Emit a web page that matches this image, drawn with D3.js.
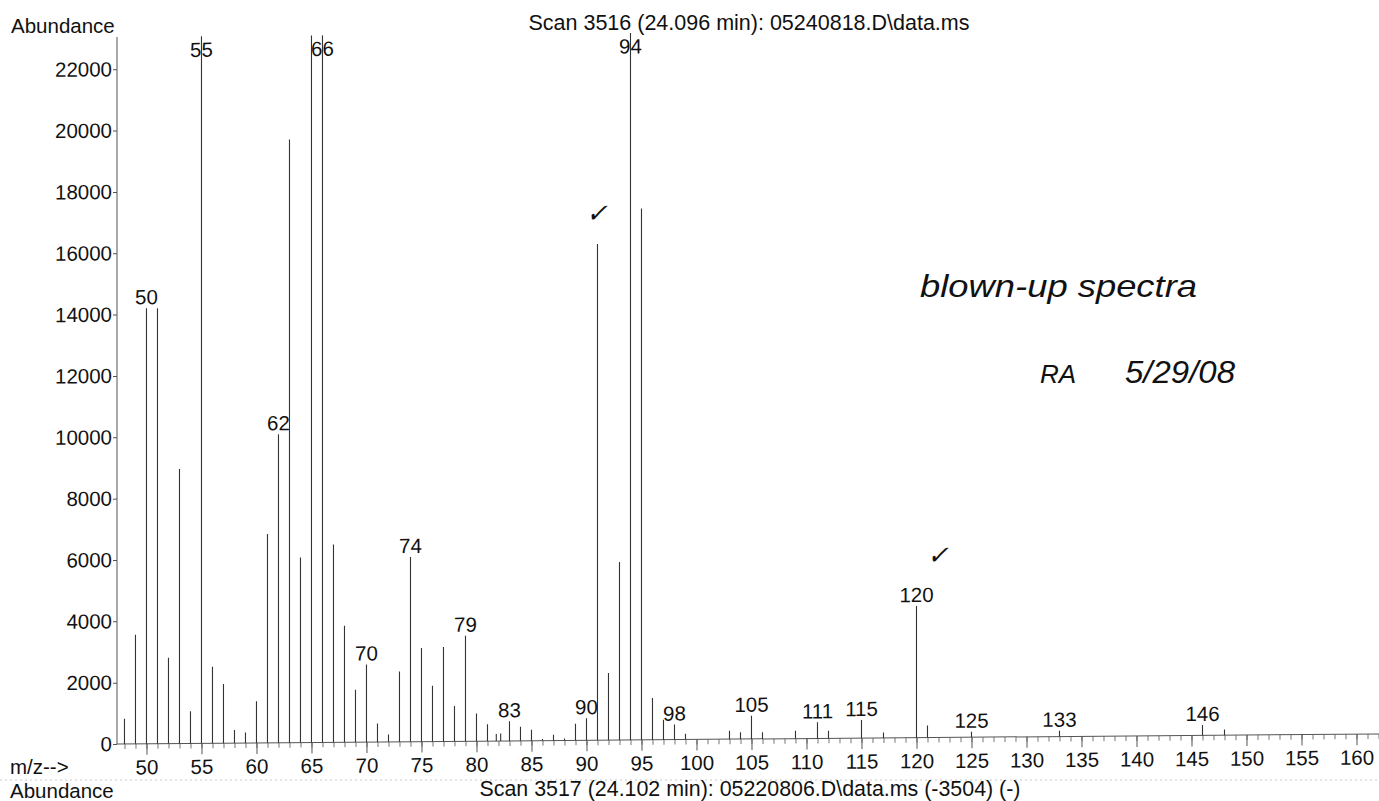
<!DOCTYPE html>
<html>
<head>
<meta charset="utf-8">
<script src="https://cdn.jsdelivr.net/npm/d3@7"></script>
<style>
  html, body { margin: 0; padding: 0; background: #fff; }
  svg { display: block; }
  text { font-family: "Liberation Sans", Arial, sans-serif; fill: #111; }
</style>
</head>
<body>
<svg id="chart" width="1379" height="801"></svg>
<script>
// ---- data ----
const mz = [48,49,50,51,52,53,54,55,56,57,58,59,60,61,62,63,64,65,66,67,68,69,70,71,72,73,74,75,76,77,78,79,80,81,81.8,82.2,83,84,85,86,87,88,89,90,91,92,93,94,95,96,97,98,99,103,104,105,106,109,111,112,115,117,120,121,125,133,146,148];
const abundance = [820,3560,14200,14200,2800,8950,1045,26000,2490,1930,425,340,1360,6810,10060,19660,6030,27000,25000,6450,3800,1710,2530,600,240,2290,6020,3050,1820,3080,1150,3440,900,550,230,240,640,460,360,50,190,60,540,720,16180,2190,5800,30000,17320,1360,650,490,190,270,225,755,220,260,525,250,590,180,4290,390,180,190,340,190];
const labeledMz = [50,55,62,66,70,74,79,83,90,94,98,105,111,115,120,125,133,146];
const yTicks = [0,2000,4000,6000,8000,10000,12000,14000,16000,18000,20000,22000];
const xMajorTicks = [50,55,60,65,70,75,80,85,90,95,100,105,110,115,120,125,130,135,140,145,150,155,160];
const xMinorTicks = d3.range(48, 163, 1);
const titleTop = "Scan 3516 (24.096 min): 05240818.D\\data.ms";
const titleBottom = "Scan 3517 (24.102 min): 05220806.D\\data.ms (-3504) (-)";
const notes = ["blown-up spectra", "5/29/08"];

// ---- layout ----
const svg = d3.select("#chart");
const plotLeft = 117, plotBase = 744, plotTop = 37, plotRight = 1379;
const x = d3.scaleLinear().domain([47.32, 162]).range([plotLeft, 1378.5]);
const y = d3.scaleLinear().domain([0, 23050]).range([plotBase, plotTop]);
const FS = 20.5;

// slightly skewed plot (scan tilt)
const g = svg.append("g")
  .attr("transform", `translate(${plotLeft},0) skewY(-0.454) translate(${-plotLeft},0)`);

// y axis
const yAxis = d3.axisLeft(y).tickValues(yTicks).tickFormat(d3.format("d"))
  .tickSize(4).tickPadding(1).tickSizeOuter(0);
const ya = g.append("g").attr("transform", `translate(${plotLeft},0)`).call(yAxis);
ya.select(".domain").remove();
ya.selectAll("line").attr("stroke", "#555");
ya.selectAll("text").style("font-size", FS + "px").attr("fill", "#111");
g.append("line").attr("x1", plotLeft).attr("x2", plotLeft).attr("y1", plotTop).attr("y2", plotBase)
  .attr("stroke", "#555").attr("stroke-width", 1);

// x axis minor & major
const xMinor = d3.axisBottom(x).tickValues(xMinorTicks).tickSize(5).tickFormat("").tickSizeOuter(0);
const xmi = g.append("g").attr("transform", `translate(0,${plotBase})`).call(xMinor);
xmi.select(".domain").remove();
xmi.selectAll("line").attr("stroke", "#777");
const xMajor = d3.axisBottom(x).tickValues(xMajorTicks).tickSize(11).tickPadding(5).tickSizeOuter(0);
const xma = g.append("g").attr("transform", `translate(0,${plotBase})`).call(xMajor);
xma.select(".domain").remove();
xma.selectAll("line").attr("stroke", "#555");
xma.selectAll("text").style("font-size", FS + "px").attr("fill", "#111");
g.append("line").attr("x1", plotLeft).attr("x2", plotRight).attr("y1", plotBase).attr("y2", plotBase)
  .attr("stroke", "#555").attr("stroke-width", 1);

// peaks
const peaks = mz.map((m, i) => ({ m, v: abundance[i] }));
g.append("g").selectAll("line").data(peaks).join("line")
  .attr("x1", d => x(d.m)).attr("x2", d => x(d.m))
  .attr("y1", y(0))
  .attr("y2", d => y(Math.min(d.v, 23050)))
  .attr("stroke", "#333").attr("stroke-width", 1.1);

// peak labels
const lab = peaks.filter(d => labeledMz.includes(d.m));
g.append("g").selectAll("text").data(lab).join("text")
  .attr("x", d => x(d.m))
  .attr("y", d => d.v > 23050 ? 57.5 : y(d.v) - 4)
  .attr("text-anchor", "middle")
  .style("font-size", FS + "px")
  .text(d => d.m);

// header/footer texts
svg.append("text").attr("x", 11).attr("y", 33).style("font-size", FS + "px").text("Abundance");
svg.append("text").attr("x", 749).attr("y", 30).attr("text-anchor", "middle").style("font-size", "21.5px").text(titleTop);
svg.append("text").attr("x", 10).attr("y", 774).style("font-size", FS + "px").text("m/z-->");
svg.append("line").attr("x1", 0).attr("x2", 1379).attr("y1", 780).attr("y2", 780)
  .attr("stroke", "#bbb").attr("stroke-dasharray", "2,3").attr("stroke-width", 0.8);
svg.append("text").attr("x", 10).attr("y", 797.5).style("font-size", FS + "px").text("Abundance");
svg.append("text").attr("x", 750).attr("y", 796).attr("text-anchor", "middle").style("font-size", "21.4px").text(titleBottom);

// handwritten notes
const hand = svg.append("g").style("font-family", "'DejaVu Sans', sans-serif")
  .style("font-style", "italic").style("font-weight", "200");
hand.append("text").attr("x", 920).attr("y", 297).style("font-size", "32px")
  .attr("textLength", 277).attr("lengthAdjust", "spacingAndGlyphs").attr("fill", "#333").text(notes[0]);
hand.append("text").attr("x", 1040).attr("y", 383).style("font-size", "26px")
  .attr("fill", "#333").text("RA");
hand.append("text").attr("x", 1125).attr("y", 383).style("font-size", "32px")
  .attr("textLength", 110).attr("lengthAdjust", "spacingAndGlyphs").attr("fill", "#333").text(notes[1]);
hand.append("text").attr("x", 586).attr("y", 222).style("font-size", "26px").attr("fill", "#333").text("✓");
hand.append("text").attr("x", 927).attr("y", 564).style("font-size", "26px").attr("fill", "#333").text("✓");
</script>
</body>
</html>
